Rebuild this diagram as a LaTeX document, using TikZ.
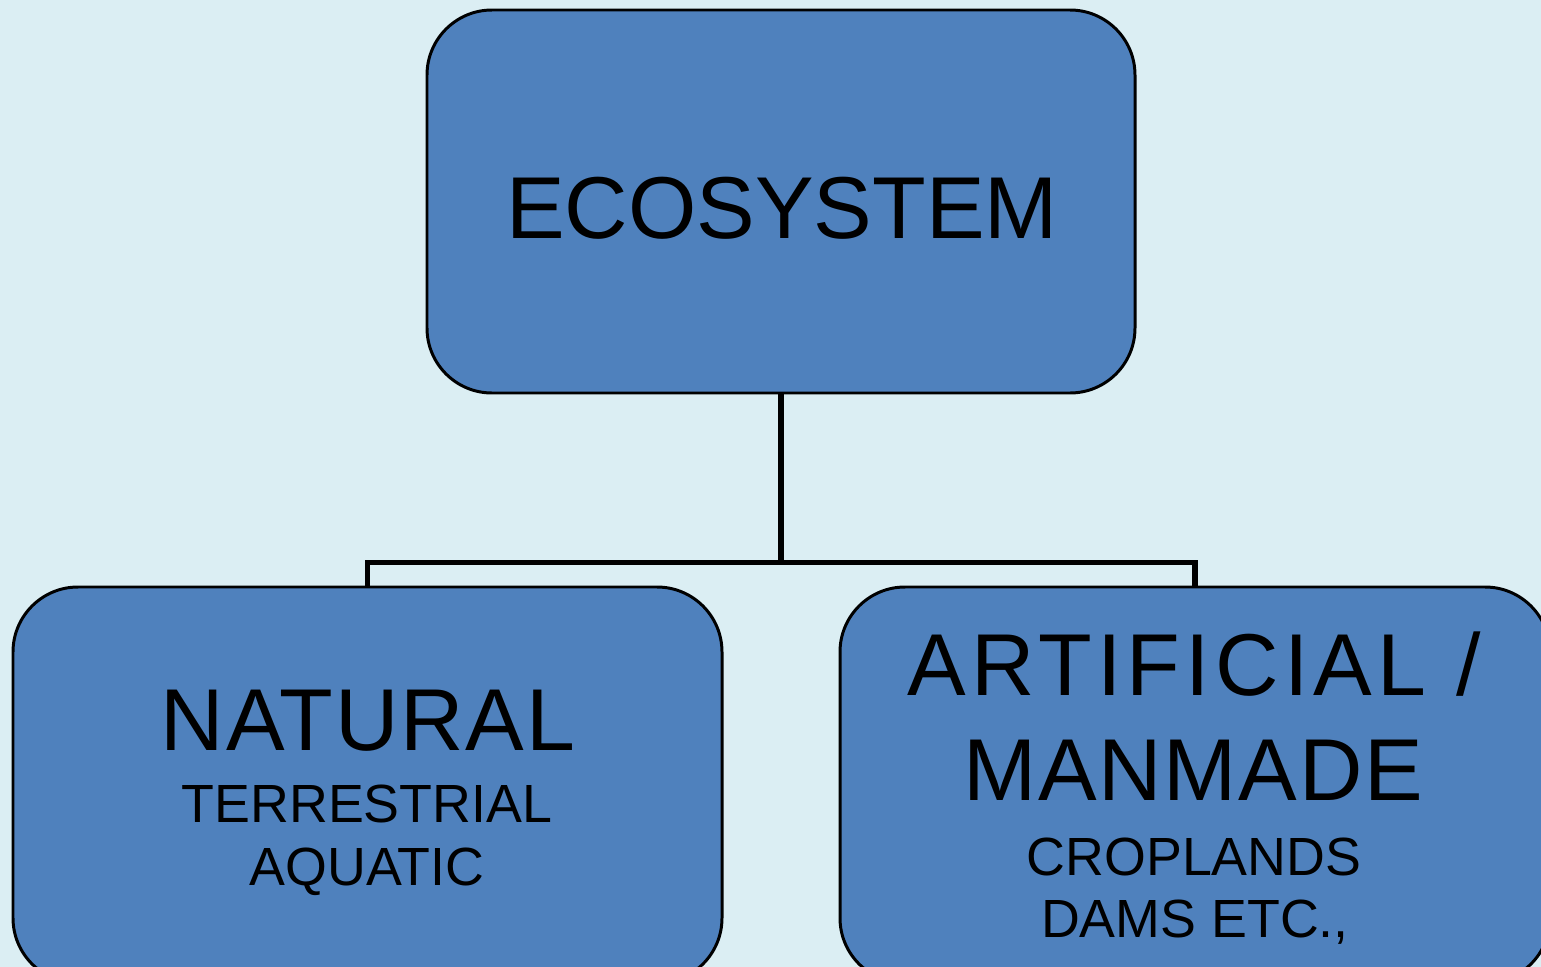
\documentclass[tikz,border=0pt]{standalone}
\usepackage{fontspec}
\setmainfont{Liberation Sans}
\newfontfamily\boxfont[LetterSpace=2]{Liberation Sans}
\newfontfamily\tightfont{Liberation Sans}
\newfontfamily\widefont[LetterSpace=6]{Liberation Sans}
\usepackage{tikz}
\usetikzlibrary{positioning}
\definecolor{PaleSky}{HTML}{DBEEF3}
\definecolor{BoxBlue}{HTML}{4F81BD}
\tikzset{
  % Box styles
  levelbox/.style={rectangle, rounded corners=0.65cm, draw=black, line width=0.85pt, fill=BoxBlue, minimum width=7.08cm, inner sep=0pt},
  % Text styles
  bigtext/.style={anchor=base, inner sep=0pt, font=\boxfont\fontsize{25}{30}\selectfont},
  smalltext/.style={anchor=base, inner sep=0pt, font=\tightfont\fontsize{15.3}{18}\selectfont},
  % Connector style
  link/.style={draw=black, line width=1.7pt}
}
\begin{document}
\begin{tikzpicture}
  % Background and page size
  \fill[PaleSky] (0,0) rectangle (15.41,-9.67);
  \useasboundingbox (0,0) rectangle (15.41,-9.67);

  % Boxes
  \node[levelbox, minimum height=3.83cm] (eco) at (7.81,-2.015) {};
  \node[levelbox, minimum height=3.96cm, minimum width=7.09cm] (natural) at (3.675,-7.85) {};
  \node[levelbox, minimum height=3.96cm, minimum width=7.10cm] (artificial) at (11.95,-7.85) {};

  % Connectors
  \draw[link] (eco.south) -- ++(0,-1.68) coordinate (fork) -| (natural.north);
  \draw[link] (fork) -| (artificial.north);

  % Texts
  \node[bigtext, font=\tightfont\fontsize{25}{30}\selectfont] (ecotext) at (7.82,-2.38) {ECOSYSTEM};
  \node[bigtext] (nattext) at (3.68,-7.50) {NATURAL};
  \node[smalltext] (terr) at (3.67,-8.22) {TERRESTRIAL};
  \node[smalltext] (aqua) at (3.67,-8.85) {AQUATIC};
  \node[bigtext, font=\widefont\fontsize{25}{30}\selectfont] (arttext) at (11.94,-6.95) {ARTIFICIAL /};
  \node[bigtext] (mantext) at (11.93,-8.00) {MANMADE};
  \node[smalltext] (crop) at (11.94,-8.75) {CROPLANDS};
  \node[smalltext] (dams) at (11.95,-9.37) {DAMS ETC.,};
\end{tikzpicture}
\end{document}
